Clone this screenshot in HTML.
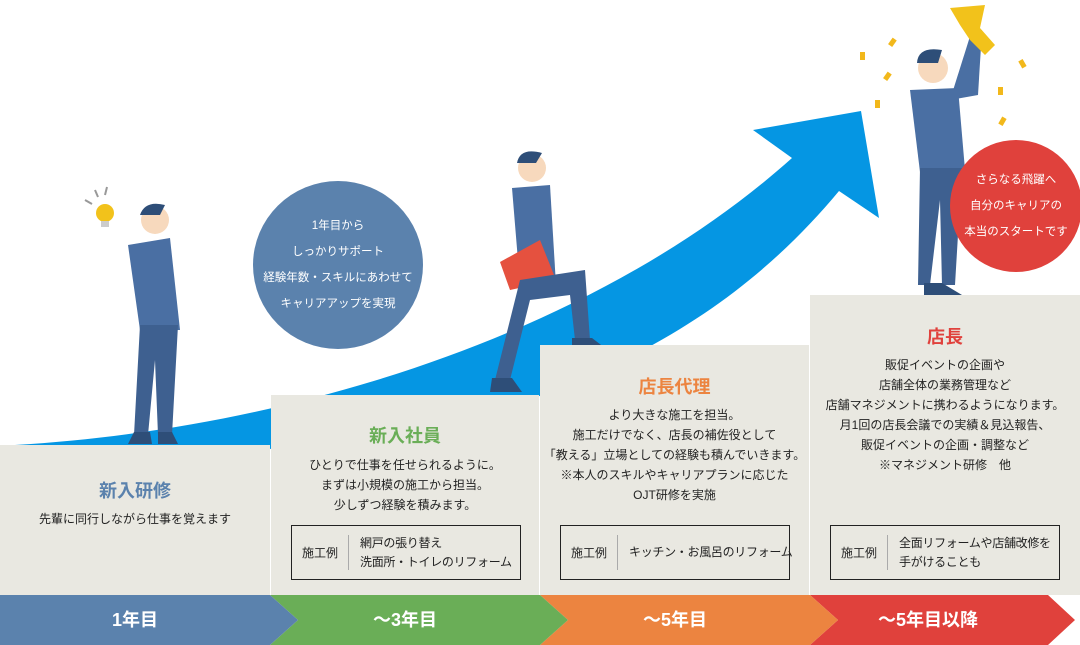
<!DOCTYPE html>
<html><head><meta charset="utf-8"><style>
*{margin:0;padding:0;box-sizing:border-box}
body{width:1080px;height:645px;position:relative;background:#fff;font-family:"Liberation Sans","Noto Sans CJK JP",sans-serif;overflow:hidden;color:#222}
.step{position:absolute;background:#e9e8e1;text-align:center}
.t{position:absolute;left:0;width:100%;font-size:18px;font-weight:bold;text-align:center}
.b{position:absolute;left:0;width:100%;font-size:12px;line-height:20px;text-align:center;color:#222}
.box{position:absolute;left:20px;width:230px;height:55px;border:1px solid #222;font-size:12px;text-align:left}
.box .k{position:absolute;left:10px;top:0;height:100%;display:flex;align-items:center}
.box .sep{position:absolute;left:56px;top:9px;bottom:9px;border-left:1px solid #aaa}
.box .v{position:absolute;left:68px;top:0;height:100%;display:flex;align-items:center;line-height:19px;white-space:nowrap;letter-spacing:-0.3px}
.circ{position:absolute;border-radius:50%;color:#fff;font-size:11.5px;line-height:26px;text-align:center;display:flex;align-items:center;justify-content:center}
.lab{position:absolute;top:595px;height:50px;color:#fff;font-size:18px;font-weight:bold;line-height:50px;text-align:center}
</style></head><body>
<svg width="1080" height="645" style="position:absolute;left:0;top:0">
<path d="M15,445 C300,428 600,330 792,158 L753,130 L861,111 L879,218 L839,191 C740,310 600,400 340,450 Z" fill="#0596e3"/>
</svg>

<div class="circ" style="left:253px;top:181px;width:170px;height:168px;background:#5b82ad">1年目から<br>しっかりサポート<br>経験年数・スキルにあわせて<br>キャリアアップを実現</div>

<svg width="1080" height="645" style="position:absolute;left:0;top:0">
<g fill="#f2c21b"><circle cx="105" cy="213" r="9"/><rect x="101" y="221" width="8" height="6" fill="#ccc"/></g>
<g stroke="#999" stroke-width="2"><line x1="85" y1="200" x2="92" y2="204"/><line x1="95" y1="190" x2="98" y2="197"/><line x1="107" y1="187" x2="105" y2="195"/></g>
<g><circle cx="155" cy="220" r="14" fill="#f7d9bd"/><path d="M140,215 Q145,200 165,205 L160,215 Z" fill="#2e4e78"/>
<path d="M128,245 L170,238 L180,330 L140,330 Z" fill="#4a6fa3"/><path d="M140,325 L178,325 L172,435 L158,435 L155,360 L148,435 L134,435 Z" fill="#3e6090"/>
<path d="M134,432 L150,432 L152,444 L128,444 Z M158,432 L172,432 L178,444 L158,444Z" fill="#2e4e78"/></g>
<g><circle cx="532" cy="168" r="14" fill="#f7d9bd"/><path d="M517,163 Q520,147 542,153 L536,163 Z" fill="#2e4e78"/>
<path d="M512,188 L550,185 L556,285 L520,285 Z" fill="#4a6fa3"/><path d="M500,262 L540,240 L556,280 L510,290 Z" fill="#e5513f"/>
<path d="M520,280 L585,270 L590,340 L575,340 L570,295 L530,300 L510,380 L495,380 Z" fill="#3e6090"/>
<path d="M492,378 L512,378 L522,392 L490,392 Z M572,338 L592,338 L605,348 L572,348Z" fill="#2e4e78"/></g>
<g><circle cx="933" cy="68" r="15" fill="#f7d9bd"/><path d="M917,63 Q918,46 942,50 L938,63 Z" fill="#2e4e78"/>
<path d="M972,30 L982,30 L978,95 L950,100 Z" fill="#4a6fa3"/><path d="M910,90 L958,88 L965,170 L920,172 Z" fill="#4a6fa3"/>
<path d="M920,168 L962,168 L955,285 L942,285 L940,200 L930,285 L918,285 Z" fill="#3e6090"/>
<path d="M924,283 L942,283 L962,295 L924,295 Z" fill="#2e4e78"/>
<path d="M950,8 L985,5 L980,28 L995,45 L985,55 L970,40 L960,25 Z" fill="#f2c21b"/></g>
<g fill="#f2b81b"><rect x="890" y="38" width="5" height="8" transform="rotate(35 892 42)"/><rect x="860" y="52" width="5" height="8"/><rect x="885" y="72" width="5" height="8" transform="rotate(35 887 76)"/><rect x="875" y="100" width="5" height="8"/><rect x="1020" y="60" width="5" height="8" transform="rotate(-30 1022 64)"/><rect x="998" y="87" width="5" height="8"/><rect x="1000" y="117" width="5" height="8" transform="rotate(30 1002 121)"/></g>
</svg>

<div class="step" style="left:0;top:445px;width:270px;height:150px">
<div class="t" style="top:32px;color:#5b82ad">新入研修</div>
<div class="b" style="top:64px">先輩に同行しながら仕事を覚えます</div></div>
<div class="step" style="left:271px;top:395px;width:268px;height:200px">
<div class="t" style="top:27px;color:#6aae57">新入社員</div>
<div class="b" style="top:60px">ひとりで仕事を任せられるように。<br>まずは小規模の施工から担当。<br>少しずつ経験を積みます。</div>
<div class="box" style="top:130px"><span class="k">施工例</span><span class="sep"></span><span class="v">網戸の張り替え<br>洗面所・トイレのリフォーム</span></div></div>
<div class="step" style="left:540px;top:345px;width:269px;height:250px">
<div class="t" style="top:28px;color:#ec8440">店長代理</div>
<div class="b" style="top:60px">より大きな施工を担当。<br>施工だけでなく、店長の補佐役として<br>「教える」立場としての経験も積んでいきます。<br>※本人のスキルやキャリアプランに応じた<br>OJT研修を実施</div>
<div class="box" style="top:180px"><span class="k">施工例</span><span class="sep"></span><span class="v">キッチン・お風呂のリフォーム</span></div></div>
<div class="step" style="left:810px;top:295px;width:270px;height:300px">
<div class="t" style="top:28px;color:#e0413c">店長</div>
<div class="b" style="top:60px">販促イベントの企画や<br>店舗全体の業務管理など<br>店舗マネジメントに携わるようになります。<br>月1回の店長会議での実績＆見込報告、<br>販促イベントの企画・調整など<br>※マネジメント研修　他</div>
<div class="box" style="top:230px"><span class="k">施工例</span><span class="sep"></span><span class="v">全面リフォームや店舗改修を<br>手がけることも</span></div></div>

<div class="circ" style="left:950px;top:140px;width:132px;height:132px;background:#e0413c">さらなる飛躍へ<br>自分のキャリアの<br>本当のスタートです</div>

<svg width="1080" height="50" style="position:absolute;left:0;top:595px">
<polygon points="810,0 1048,0 1075,25 1048,50 810,50 838,25" fill="#e0413c"/>
<polygon points="540,0 810,0 838,25 810,50 540,50 568,25" fill="#ec8440"/>
<polygon points="270,0 540,0 568,25 540,50 270,50 298,25" fill="#6aae57"/>
<polygon points="0,0 270,0 298,25 270,50 0,50" fill="#5b82ad"/>
</svg>
<div class="lab" style="left:0;width:270px">1年目</div>
<div class="lab" style="left:270px;width:270px">～3年目</div>
<div class="lab" style="left:540px;width:270px">～5年目</div>
<div class="lab" style="left:810px;width:236px">～5年目以降</div>
</body></html>
